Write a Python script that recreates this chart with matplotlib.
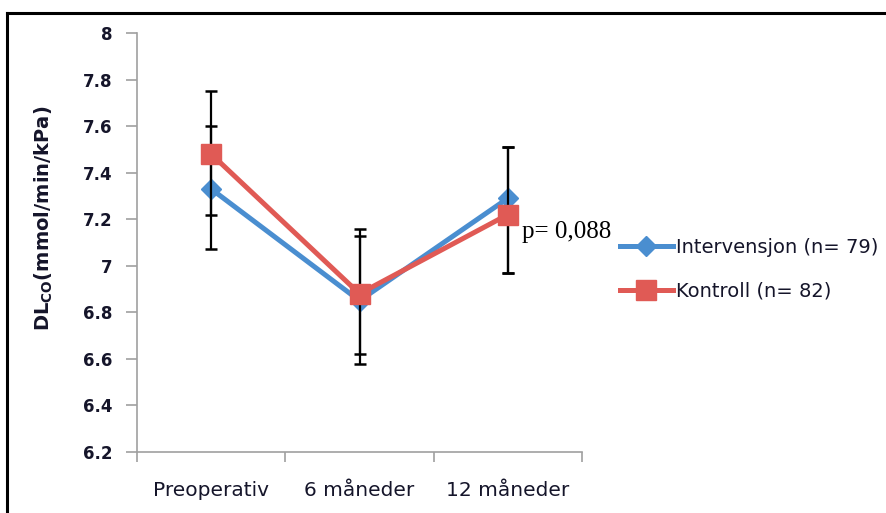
import numpy as np
import matplotlib
matplotlib.use('Agg')
import matplotlib.pyplot as plt
from matplotlib.lines import Line2D

plt.rcParams['font.family'] = ['DejaVu Sans']
plt.rcParams['mathtext.fontset'] = 'custom'
plt.rcParams['mathtext.rm'] = 'DejaVu Sans:bold'

# data
tidspunkt = ['Preoperativ', '6 måneder', '12 måneder']
intervensjon = [7.33, 6.85, 7.29]
intervensjon_lav = [7.07, 6.58, 6.97]
intervensjon_hoy = [7.60, 7.16, 7.51]
kontroll = [7.48, 6.88, 7.22]
kontroll_lav = [7.22, 6.62, 6.97]
kontroll_hoy = [7.75, 7.13, 7.51]
yticks = [6.2, 6.4, 6.6, 6.8, 7, 7.2, 7.4, 7.6, 7.8, 8]

blaa = '#4a8ed0'
roed = '#e05a55'
graa = '#a0a0a0'
tekst = '#15152a'

fig = plt.figure(figsize=(8.86, 5.13), dpi=100)
ax = fig.add_axes([137/886, 61/513, 445/886, 419/513])

x = np.arange(len(tidspunkt))

def tegn(verdier, lav, hoy, farge, markor, ms, navn, z):
    v = np.array(verdier)
    feil = [v - np.array(lav), np.array(hoy) - v]
    ax.errorbar(x, v, yerr=feil, fmt='none', ecolor='black', elinewidth=1.6,
                capsize=4.5, capthick=1.8, zorder=z)
    ax.plot(x, v, color=farge, lw=3.6, marker=markor, ms=ms, mec=farge,
            mfc=farge, label=navn, zorder=z + 1)

tegn(intervensjon, intervensjon_lav, intervensjon_hoy, blaa, 'D', 10.5,
     'Intervensjon (n= 79)', 2)
tegn(kontroll, kontroll_lav, kontroll_hoy, roed, 's', 14,
     'Kontroll (n= 82)', 4)

ax.set_xlim(-0.5, 2.5)
ax.set_ylim(6.2, 8)
ax.set_yticks(yticks)
ax.set_yticklabels([f'{t:g}' for t in yticks], fontweight='bold', fontsize=12,
                   color=tekst)

# kategoriskiller som hovedmerker, navn som hjelpemerker
ax.set_xticks([-0.5, 0.5, 1.5, 2.5])
ax.set_xticklabels([])
ax.set_xticks(x, minor=True)
ax.set_xticklabels(tidspunkt, minor=True, fontsize=14.5, color=tekst)
ax.tick_params(axis='x', which='minor', length=0, pad=21)
ax.tick_params(axis='x', which='major', length=7, color=graa, width=1.2)
ax.tick_params(axis='y', length=8, color=graa, width=1.2, pad=10)

for s in ['top', 'right']:
    ax.spines[s].set_visible(False)
for s in ['left', 'bottom']:
    ax.spines[s].set_color(graa)
    ax.spines[s].set_linewidth(1.2)

ax.set_ylabel('DL$_{\\mathrm{CO}}$(mmol/min/kPa)', fontweight='bold', fontsize=14,
              color=tekst)
ax.yaxis.set_label_coords(-0.185, 0.558)

ax.text(2.095, 7.145, 'p= 0,088', family='Liberation Serif', fontsize=18,
        va='center', ha='left')

leg = ax.legend(loc='center left', bbox_to_anchor=(483/445, 0.436), frameon=False,
                fontsize=14, handlelength=2.7, handletextpad=0.2, labelspacing=1.3,
                borderaxespad=0, borderpad=0)
for t in leg.get_texts():
    t.set_color(tekst)

# ramme
fig.add_artist(Line2D([7/886, 7/886], [0, 1 - 13/513], color='black', lw=2.2))
fig.add_artist(Line2D([7/886, 1], [1 - 13/513, 1 - 13/513], color='black', lw=2.2))

fig.savefig('out.png', dpi=100)
